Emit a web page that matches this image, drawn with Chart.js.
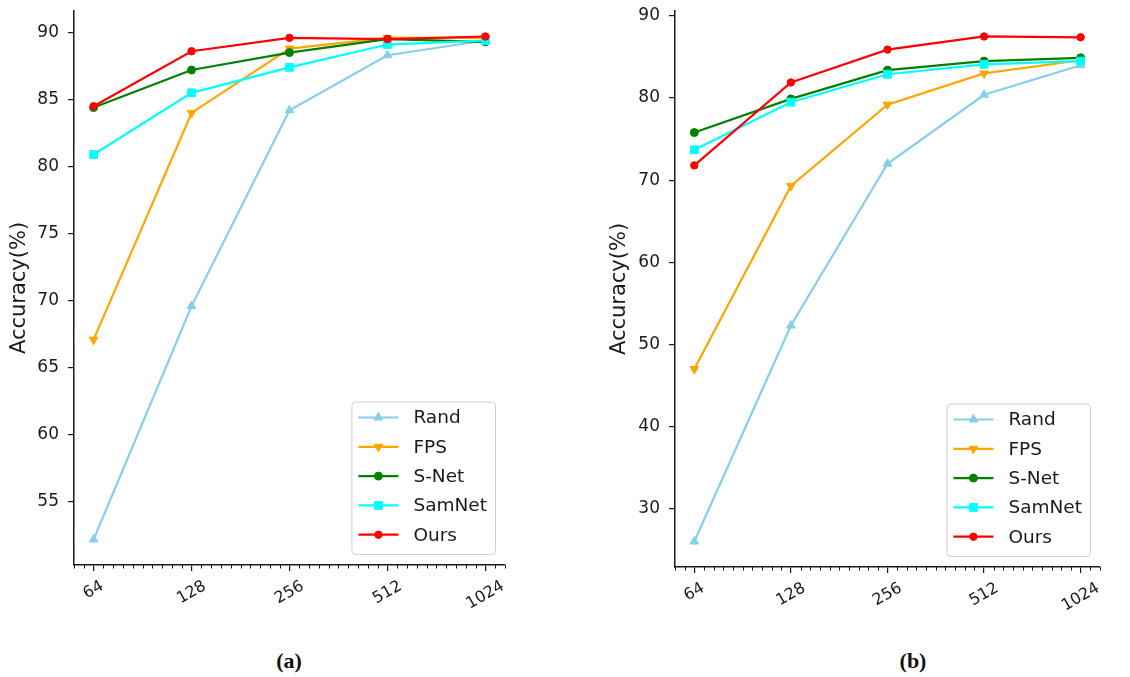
<!DOCTYPE html>
<html>
<head>
<meta charset="utf-8">
<title>Accuracy vs number of sampled points</title>
<script src="https://cdn.jsdelivr.net/npm/chart.js@4.4.1/dist/chart.umd.min.js"></script>
<style>
  html, body { margin: 0; padding: 0; background: #fff; }
  body { width: 1130px; height: 677px; position: relative; overflow: hidden; }
  .panel { position: absolute; top: 0; height: 640px; }
  .caption {
    position: absolute; top: 648px; line-height: 26px;
    font: bold 22px "Liberation Serif", "Times New Roman", serif;
    color: #111; transform: translateX(-50%);
  }
</style>
</head>
<body>
<div class="panel" style="left:0;width:540px"><canvas id="chartA"></canvas></div>
<div class="panel" style="left:600px;width:530px"><canvas id="chartB"></canvas></div>
<div class="caption" style="left:289px">(a)</div>
<div class="caption" style="left:913px">(b)</div>
<script>
const SIZES = [64, 128, 256, 512, 1024];
const METHODS = ["Rand", "FPS", "S-Net", "SamNet", "Ours"];

// (a)
const randA = [52.2, 69.6, 84.2, 88.3, 89.4];
const fpsA = [67.1, 84.0, 88.8, 89.6, 89.6];
const snetA = [84.4, 87.2, 88.5, 89.5, 89.3];
const samnetA = [80.9, 85.5, 87.4, 89.1, 89.4];
const oursA = [84.5, 88.6, 89.6, 89.5, 89.7];
const yTicksA = [55, 60, 65, 70, 75, 80, 85, 90];

// (b)
const randB = [26.0, 52.3, 72.0, 80.4, 84.0];
const fpsB = [47.0, 69.3, 79.2, 83.0, 84.6];
const snetB = [75.8, 79.9, 83.4, 84.5, 84.9];
const samnetB = [73.7, 79.5, 82.9, 84.1, 84.5];
const oursB = [71.8, 81.9, 85.9, 87.5, 87.4];
const yTicksB = [30, 40, 50, 60, 70, 80, 90];

const COLORS = ["#87ceeb", "#ffa500", "#008000", "#00ffff", "#ff0000"];
const MARKERS = [
  { pointStyle: "triangle", radius: 5, rotation: 0 },
  { pointStyle: "triangle", radius: 5, rotation: 180 },
  { pointStyle: "circle", radius: 4, rotation: 0 },
  { pointStyle: "rect", radius: 5.5, rotation: 0 },
  { pointStyle: "circle", radius: 3.7, rotation: 0 }
];
const INK = "#1a1a1a";
const FONT = '"DejaVu Sans", Verdana, sans-serif';

// minor ticks every 0.1 octave + rotated labels, like matplotlib
const log2Axis = {
  id: "log2Axis",
  afterDraw(chart) {
    const sx = chart.scales.x;
    const ctx = chart.ctx;
    const top = sx.top;
    ctx.save();
    ctx.strokeStyle = INK;
    ctx.lineWidth = 1;
    for (let k = 58; k <= 102; k++) {
      if (k % 10 === 0) continue;
      const px = Math.round(sx.getPixelForValue(Math.pow(2, k / 10))) + 0.5;
      ctx.beginPath();
      ctx.moveTo(px, top);
      ctx.lineTo(px, top + 3.5);
      ctx.stroke();
    }
    ctx.fillStyle = INK;
    ctx.font = "16px " + FONT;
    ctx.textAlign = "center";
    ctx.textBaseline = "middle";
    const ang = Math.PI / 6;
    SIZES.forEach((s) => {
      const label = String(s);
      const w = ctx.measureText(label).width;
      const bh = w * Math.sin(ang) + 11.5 * Math.cos(ang);
      ctx.save();
      ctx.translate(sx.getPixelForValue(s), top + 15 + bh / 2);
      ctx.rotate(-ang);
      ctx.fillText(label, 0, 0);
      ctx.restore();
    });
    ctx.restore();
  }
};

const drawMarker = (ctx, i, x, y) => {
  const m = MARKERS[i];
  ctx.fillStyle = COLORS[i];
  ctx.strokeStyle = COLORS[i];
  ctx.lineWidth = 1;
  Chart.helpers.drawPoint(ctx, { pointStyle: m.pointStyle, radius: m.radius, rotation: m.rotation, borderWidth: 1 }, x, y);
};

const legendBox = {
  id: "legendBox",
  afterDraw(chart) {
    const { ctx, chartArea } = chart;
    ctx.save();
    ctx.font = "18.5px " + FONT;
    const textW = Math.max(...METHODS.map((m) => ctx.measureText(m).width));
    const rowH = 29.3;
    const w = 7 + 40 + 15 + textW + 8;
    const h = rowH * METHODS.length + 6;
    const x0 = chartArea.right - 10 - w;
    const y0 = chartArea.bottom - 11 - h;
    ctx.beginPath();
    ctx.roundRect(x0 + 0.5, y0 + 0.5, w, h, 4);
    ctx.fillStyle = "rgba(255,255,255,0.85)";
    ctx.fill();
    ctx.strokeStyle = "#d0d0d0";
    ctx.lineWidth = 1;
    ctx.stroke();
    METHODS.forEach((name, i) => {
      const y = y0 + 16 + i * rowH;
      ctx.strokeStyle = COLORS[i];
      ctx.lineWidth = 2.2;
      ctx.beginPath();
      ctx.moveTo(x0 + 7, y);
      ctx.lineTo(x0 + 47, y);
      ctx.stroke();
      drawMarker(ctx, i, x0 + 27, y);
      ctx.fillStyle = INK;
      ctx.textAlign = "left";
      ctx.textBaseline = "middle";
      ctx.fillText(name, x0 + 62, y + 1);
    });
    ctx.restore();
  }
};

const makeChart = (id, series, yTicks, yMin, yMax, axisW, padRight, xAxisH) => {
  const datasets = series.map((vals, i) => ({
    label: METHODS[i],
    data: SIZES.map((s, j) => ({ x: s, y: vals[j] })),
    borderColor: COLORS[i],
    backgroundColor: COLORS[i],
    borderWidth: 2.2,
    pointStyle: MARKERS[i].pointStyle,
    pointRadius: MARKERS[i].radius,
    pointRotation: MARKERS[i].rotation,
    pointBorderWidth: 1,
    pointBorderColor: COLORS[i],
    pointBackgroundColor: COLORS[i],
    tension: 0,
    order: METHODS.length - 1 - i
  }));

  return new Chart(document.getElementById(id), {
    type: "line",
    data: { datasets },
    plugins: [log2Axis, legendBox],
    options: {
      responsive: true,
      maintainAspectRatio: false,
      animation: false,
      layout: { padding: { top: 11, right: padRight, bottom: 0, left: 0 } },
      plugins: { legend: { display: false }, tooltip: { enabled: false } },
      scales: {
        x: {
          type: "logarithmic",
          min: Math.pow(2, 5.8),
          max: Math.pow(2, 10.2),
          afterBuildTicks: (scale) => { scale.ticks = SIZES.map((v) => ({ value: v })); },
          afterFit: (scale) => {
            scale.height = xAxisH;
            scale.paddingLeft = 0;
            scale.paddingRight = 0;
          },
          ticks: { display: false },
          grid: { display: true, drawOnChartArea: false, drawTicks: true, tickLength: 6, color: INK, lineWidth: 1.2 },
          border: { display: true, color: INK, width: 1.5 }
        },
        y: {
          type: "linear",
          min: yMin,
          max: yMax,
          afterBuildTicks: (scale) => { scale.ticks = yTicks.map((v) => ({ value: v })); },
          afterFit: (scale) => {
            scale.width = axisW;
            scale.paddingTop = 0;
            scale.paddingBottom = 0;
          },
          ticks: { color: INK, padding: 9, font: { family: FONT, size: 17 } },
          grid: { display: true, drawOnChartArea: false, drawTicks: true, tickLength: 6, color: INK, lineWidth: 1.2 },
          border: { display: true, color: INK, width: 1.5 },
          title: {
            display: true,
            text: "Accuracy(%)",
            color: INK,
            font: { family: FONT, size: 21 },
            padding: { top: 7, bottom: 0 }
          }
        }
      }
    }
  });
};

makeChart("chartA", [randA, fpsA, snetA, samnetA, oursA], yTicksA, 50.3, 91.6, 74, 35, 75);
makeChart("chartB", [randB, fpsB, snetB, samnetB, oursB], yTicksB, 22.9, 90.6, 75, 30, 73);
</script>
</body>
</html>
